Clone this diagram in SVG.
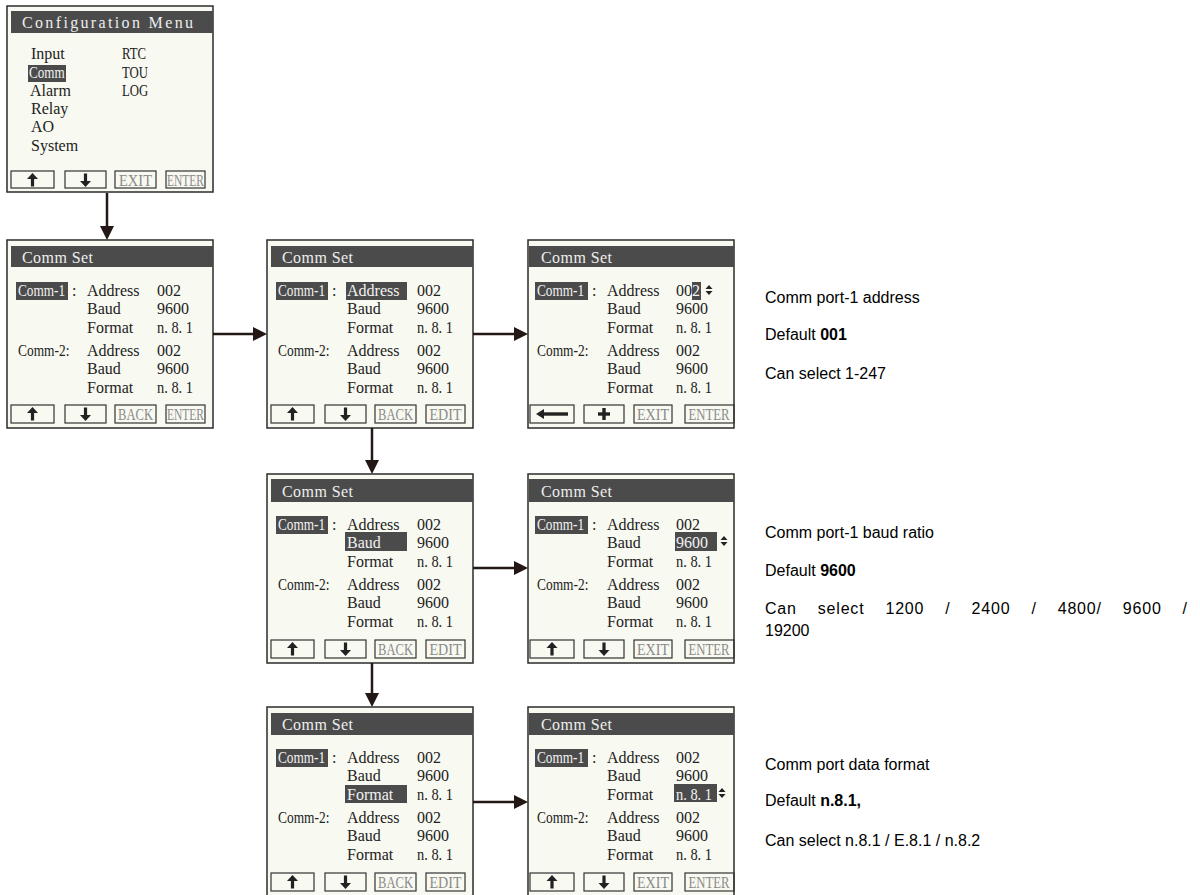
<svg xmlns="http://www.w3.org/2000/svg" width="1200" height="895" viewBox="0 0 1200 895">
<defs>
<style>
.scr{fill:#f8f9f1;stroke:#2b2b2b;stroke-width:1.5}
.hd{fill:#4b4b4b}
.hl{fill:#4b4b4b}
.t{font-family:"Liberation Serif",serif;font-size:16px;fill:#222}
.tw{font-family:"Liberation Serif",serif;font-size:16px;fill:#f2f2f2}
.ht{font-family:"Liberation Serif",serif;font-size:16px;fill:#eeeeee}
.btn{fill:none;stroke:#333;stroke-width:1.2}
.bt{font-family:"Liberation Serif",serif;font-size:16px;fill:#8a8a8a;text-anchor:middle}
.ic{fill:#222}
.cn{stroke:#231815;stroke-width:2.5;fill:none}
.ah{fill:#231815}
.d{font-family:"Liberation Sans",Arial,sans-serif;font-size:16px;fill:#000}
.b{font-weight:bold}
</style>
<g id="upIcon"><polygon points="0,-7 -5.5,-1 5.5,-1"/><rect x="-1.6" y="-1.5" width="3.2" height="8"/></g>
<g id="downIcon"><polygon points="0,7 -5.5,1 5.5,1"/><rect x="-1.6" y="-6.5" width="3.2" height="8"/></g>
<g id="ud"><polygon points="0,-5 -3.5,-1 3.5,-1"/><polygon points="0,5 -3.5,1 3.5,1"/></g>
</defs>

<!-- Configuration menu -->
<g id="configMenu" transform="translate(7,6)">
<rect class="scr" x="0" y="0" width="206" height="186"/>
<rect class="hd" x="4" y="5" width="202" height="22"/>
<text class="ht" x="15" y="22" textLength="171" lengthAdjust="spacing">Configuration Menu</text>
<text class="t" x="24" y="53">Input</text>
<rect class="hl" x="21" y="59" width="38" height="17"/>
<text class="tw" transform="translate(22,72) scale(0.82,1)">Comm</text>
<text class="t" x="23" y="90">Alarm</text>
<text class="t" x="24" y="108">Relay</text>
<text class="t" x="24" y="126">AO</text>
<text class="t" x="24" y="145">System</text>
<text class="t" transform="translate(115,53) scale(0.8,1)">RTC</text>
<text class="t" transform="translate(115,72) scale(0.8,1)">TOU</text>
<text class="t" transform="translate(115,90) scale(0.8,1)">LOG</text>
<rect class="btn" x="4" y="165" width="43" height="17"/>
<rect class="btn" x="58" y="165" width="41" height="17"/>
<rect class="btn" x="108" y="165" width="41" height="17"/>
<rect class="btn" x="159" y="165" width="39" height="17"/>
<use href="#upIcon" class="ic" x="25.5" y="174"/>
<use href="#downIcon" class="ic" x="78.5" y="174"/>
<text class="bt" x="128.5" y="179.5" textLength="33" lengthAdjust="spacingAndGlyphs">EXIT</text>
<text class="bt" x="178.5" y="179.5" textLength="37" lengthAdjust="spacingAndGlyphs">ENTER</text>
</g>

<!-- Screen 2: Comm Set, Comm-1 selected -->
<g id="commSet1" transform="translate(7,240)">
<rect class="scr" x="0" y="0" width="206" height="188"/>
<rect class="hd" x="4" y="6" width="202" height="21"/>
<text class="ht" x="15" y="23" textLength="71" lengthAdjust="spacing">Comm Set</text>
<rect class="hl" x="9" y="42" width="52" height="18"/>
<text class="tw" transform="translate(11,56) scale(0.83,1)">Comm-1</text>
<text class="t" x="65" y="56">:</text>
<text class="t" x="80" y="56">Address</text><text class="t" x="150" y="56">002</text>
<text class="t" x="80" y="74">Baud</text><text class="t" x="150" y="74">9600</text>
<text class="t" x="80" y="93">Format</text><text class="t" x="150" y="93" textLength="36" lengthAdjust="spacingAndGlyphs">n. 8. 1</text>
<text class="t" transform="translate(11,116) scale(0.84,1)">Comm-2:</text>
<text class="t" x="80" y="116">Address</text><text class="t" x="150" y="116">002</text>
<text class="t" x="80" y="134">Baud</text><text class="t" x="150" y="134">9600</text>
<text class="t" x="80" y="153">Format</text><text class="t" x="150" y="153" textLength="36" lengthAdjust="spacingAndGlyphs">n. 8. 1</text>
<rect class="btn" x="4" y="165" width="43" height="18"/>
<rect class="btn" x="58" y="165" width="41" height="18"/>
<rect class="btn" x="108" y="165" width="41" height="18"/>
<rect class="btn" x="159" y="165" width="39" height="18"/>
<use href="#upIcon" class="ic" x="25.5" y="174"/>
<use href="#downIcon" class="ic" x="78.5" y="174"/>
<text class="bt" x="128.5" y="180" textLength="35" lengthAdjust="spacingAndGlyphs">BACK</text>
<text class="bt" x="178.5" y="180" textLength="37" lengthAdjust="spacingAndGlyphs">ENTER</text>
</g>

<!-- Screen 3: Address selected -->
<g id="commSetAddr" transform="translate(267,240)">
<rect class="scr" x="0" y="0" width="206" height="188"/>
<rect class="hd" x="4" y="6" width="202" height="21"/>
<text class="ht" x="15" y="23" textLength="71" lengthAdjust="spacing">Comm Set</text>
<rect class="hl" x="9" y="42" width="52" height="18"/>
<text class="tw" transform="translate(11,56) scale(0.83,1)">Comm-1</text>
<text class="t" x="65" y="56">:</text>
<rect class="hl" x="79" y="42" width="61" height="18"/>
<text class="tw" x="80" y="56">Address</text><text class="t" x="150" y="56">002</text>
<text class="t" x="80" y="74">Baud</text><text class="t" x="150" y="74">9600</text>
<text class="t" x="80" y="93">Format</text><text class="t" x="150" y="93" textLength="36" lengthAdjust="spacingAndGlyphs">n. 8. 1</text>
<text class="t" transform="translate(11,116) scale(0.84,1)">Comm-2:</text>
<text class="t" x="80" y="116">Address</text><text class="t" x="150" y="116">002</text>
<text class="t" x="80" y="134">Baud</text><text class="t" x="150" y="134">9600</text>
<text class="t" x="80" y="153">Format</text><text class="t" x="150" y="153" textLength="36" lengthAdjust="spacingAndGlyphs">n. 8. 1</text>
<rect class="btn" x="4" y="165" width="43" height="18"/>
<rect class="btn" x="58" y="165" width="41" height="18"/>
<rect class="btn" x="108" y="165" width="41" height="18"/>
<rect class="btn" x="159" y="165" width="39" height="18"/>
<use href="#upIcon" class="ic" x="25.5" y="174"/>
<use href="#downIcon" class="ic" x="78.5" y="174"/>
<text class="bt" x="128.5" y="180" textLength="35" lengthAdjust="spacingAndGlyphs">BACK</text>
<text class="bt" x="178.5" y="180" textLength="32" lengthAdjust="spacingAndGlyphs">EDIT</text>
</g>

<!-- Screen 4: Address edit -->
<g id="commSetAddrEdit" transform="translate(528,240)">
<rect class="scr" x="0" y="0" width="206" height="188"/>
<rect class="hd" x="1" y="6" width="205" height="21"/>
<text class="ht" x="13" y="23" textLength="71" lengthAdjust="spacing">Comm Set</text>
<rect class="hl" x="7" y="42" width="53" height="18"/>
<text class="tw" transform="translate(9,56) scale(0.83,1)">Comm-1</text>
<text class="t" x="64" y="56">:</text>
<text class="t" x="79" y="56">Address</text><text class="t" x="148" y="56">00</text>
<rect class="hl" x="164" y="42" width="9" height="18"/>
<text class="tw" x="164" y="56">2</text>
<use href="#ud" class="ic" x="181" y="50"/>
<text class="t" x="79" y="74">Baud</text><text class="t" x="148" y="74">9600</text>
<text class="t" x="79" y="93">Format</text><text class="t" x="148" y="93" textLength="36" lengthAdjust="spacingAndGlyphs">n. 8. 1</text>
<text class="t" transform="translate(9,116) scale(0.84,1)">Comm-2:</text>
<text class="t" x="79" y="116">Address</text><text class="t" x="148" y="116">002</text>
<text class="t" x="79" y="134">Baud</text><text class="t" x="148" y="134">9600</text>
<text class="t" x="79" y="153">Format</text><text class="t" x="148" y="153" textLength="36" lengthAdjust="spacingAndGlyphs">n. 8. 1</text>
<rect class="btn" x="2" y="165" width="44" height="18"/>
<rect class="btn" x="56" y="165" width="40" height="18"/>
<rect class="btn" x="106" y="165" width="38" height="18"/>
<rect class="btn" x="157" y="165" width="49" height="18"/>
<polygon class="ic" points="8,174 16,169 16,179"/>
<rect class="ic" x="15" y="172.3" width="25" height="3.4"/>
<rect class="ic" x="70" y="172.3" width="12" height="3.4"/>
<rect class="ic" x="74.3" y="168" width="3.4" height="12"/>
<text class="bt" x="125" y="180" textLength="32" lengthAdjust="spacingAndGlyphs">EXIT</text>
<text class="bt" x="181" y="180" textLength="41" lengthAdjust="spacingAndGlyphs">ENTER</text>
</g>

<!-- Screen 5: Baud selected -->
<g id="commSetBaud" transform="translate(267,474)">
<rect class="scr" x="0" y="0" width="206" height="189"/>
<rect class="hd" x="4" y="5" width="202" height="23"/>
<text class="ht" x="15" y="23" textLength="71" lengthAdjust="spacing">Comm Set</text>
<rect class="hl" x="9" y="42" width="52" height="18"/>
<text class="tw" transform="translate(11,56) scale(0.83,1)">Comm-1</text>
<text class="t" x="65" y="56">:</text>
<text class="t" x="80" y="56">Address</text><text class="t" x="150" y="56">002</text>
<rect class="hl" x="78" y="58" width="62" height="19"/>
<text class="tw" x="80" y="74">Baud</text><text class="t" x="150" y="74">9600</text>
<text class="t" x="80" y="93">Format</text><text class="t" x="150" y="93" textLength="36" lengthAdjust="spacingAndGlyphs">n. 8. 1</text>
<text class="t" transform="translate(11,116) scale(0.84,1)">Comm-2:</text>
<text class="t" x="80" y="116">Address</text><text class="t" x="150" y="116">002</text>
<text class="t" x="80" y="134">Baud</text><text class="t" x="150" y="134">9600</text>
<text class="t" x="80" y="153">Format</text><text class="t" x="150" y="153" textLength="36" lengthAdjust="spacingAndGlyphs">n. 8. 1</text>
<rect class="btn" x="4" y="166" width="43" height="18"/>
<rect class="btn" x="58" y="166" width="41" height="18"/>
<rect class="btn" x="108" y="166" width="41" height="18"/>
<rect class="btn" x="159" y="166" width="39" height="18"/>
<use href="#upIcon" class="ic" x="25.5" y="175"/>
<use href="#downIcon" class="ic" x="78.5" y="175"/>
<text class="bt" x="128.5" y="181" textLength="35" lengthAdjust="spacingAndGlyphs">BACK</text>
<text class="bt" x="178.5" y="181" textLength="32" lengthAdjust="spacingAndGlyphs">EDIT</text>
</g>

<!-- Screen 6: Baud edit -->
<g id="commSetBaudEdit" transform="translate(528,474)">
<rect class="scr" x="0" y="0" width="206" height="189"/>
<rect class="hd" x="1" y="5" width="205" height="23"/>
<text class="ht" x="13" y="23" textLength="71" lengthAdjust="spacing">Comm Set</text>
<rect class="hl" x="7" y="42" width="53" height="18"/>
<text class="tw" transform="translate(9,56) scale(0.83,1)">Comm-1</text>
<text class="t" x="64" y="56">:</text>
<text class="t" x="79" y="56">Address</text><text class="t" x="148" y="56">002</text>
<text class="t" x="79" y="74">Baud</text>
<rect class="hl" x="147" y="58" width="42" height="19"/>
<text class="tw" x="148" y="74">9600</text>
<use href="#ud" class="ic" x="196" y="67"/>
<text class="t" x="79" y="93">Format</text><text class="t" x="148" y="93" textLength="36" lengthAdjust="spacingAndGlyphs">n. 8. 1</text>
<text class="t" transform="translate(9,116) scale(0.84,1)">Comm-2:</text>
<text class="t" x="79" y="116">Address</text><text class="t" x="148" y="116">002</text>
<text class="t" x="79" y="134">Baud</text><text class="t" x="148" y="134">9600</text>
<text class="t" x="79" y="153">Format</text><text class="t" x="148" y="153" textLength="36" lengthAdjust="spacingAndGlyphs">n. 8. 1</text>
<rect class="btn" x="2" y="166" width="44" height="18"/>
<rect class="btn" x="56" y="166" width="40" height="18"/>
<rect class="btn" x="106" y="166" width="38" height="18"/>
<rect class="btn" x="157" y="166" width="49" height="18"/>
<use href="#upIcon" class="ic" x="24" y="175"/>
<use href="#downIcon" class="ic" x="76" y="175"/>
<text class="bt" x="125" y="181" textLength="32" lengthAdjust="spacingAndGlyphs">EXIT</text>
<text class="bt" x="181" y="181" textLength="41" lengthAdjust="spacingAndGlyphs">ENTER</text>
</g>

<!-- Screen 7: Format selected -->
<g id="commSetFormat" transform="translate(267,707)">
<rect class="scr" x="0" y="0" width="206" height="189"/>
<rect class="hd" x="4" y="6" width="202" height="22"/>
<text class="ht" x="15" y="23" textLength="71" lengthAdjust="spacing">Comm Set</text>
<rect class="hl" x="9" y="42" width="52" height="18"/>
<text class="tw" transform="translate(11,56) scale(0.83,1)">Comm-1</text>
<text class="t" x="65" y="56">:</text>
<text class="t" x="80" y="56">Address</text><text class="t" x="150" y="56">002</text>
<text class="t" x="80" y="74">Baud</text><text class="t" x="150" y="74">9600</text>
<rect class="hl" x="78" y="78" width="62" height="18"/>
<text class="tw" x="80" y="93">Format</text><text class="t" x="150" y="93" textLength="36" lengthAdjust="spacingAndGlyphs">n. 8. 1</text>
<text class="t" transform="translate(11,116) scale(0.84,1)">Comm-2:</text>
<text class="t" x="80" y="116">Address</text><text class="t" x="150" y="116">002</text>
<text class="t" x="80" y="134">Baud</text><text class="t" x="150" y="134">9600</text>
<text class="t" x="80" y="153">Format</text><text class="t" x="150" y="153" textLength="36" lengthAdjust="spacingAndGlyphs">n. 8. 1</text>
<rect class="btn" x="4" y="166" width="43" height="18"/>
<rect class="btn" x="58" y="166" width="41" height="18"/>
<rect class="btn" x="108" y="166" width="41" height="18"/>
<rect class="btn" x="159" y="166" width="39" height="18"/>
<use href="#upIcon" class="ic" x="25.5" y="175"/>
<use href="#downIcon" class="ic" x="78.5" y="175"/>
<text class="bt" x="128.5" y="181" textLength="35" lengthAdjust="spacingAndGlyphs">BACK</text>
<text class="bt" x="178.5" y="181" textLength="32" lengthAdjust="spacingAndGlyphs">EDIT</text>
</g>

<!-- Screen 8: Format edit -->
<g id="commSetFormatEdit" transform="translate(528,707)">
<rect class="scr" x="0" y="0" width="206" height="189"/>
<rect class="hd" x="1" y="6" width="205" height="22"/>
<text class="ht" x="13" y="23" textLength="71" lengthAdjust="spacing">Comm Set</text>
<rect class="hl" x="7" y="42" width="53" height="18"/>
<text class="tw" transform="translate(9,56) scale(0.83,1)">Comm-1</text>
<text class="t" x="64" y="56">:</text>
<text class="t" x="79" y="56">Address</text><text class="t" x="148" y="56">002</text>
<text class="t" x="79" y="74">Baud</text><text class="t" x="148" y="74">9600</text>
<text class="t" x="79" y="93">Format</text>
<rect class="hl" x="146" y="77" width="43" height="18"/>
<text class="tw" x="148" y="93" textLength="36" lengthAdjust="spacingAndGlyphs">n. 8. 1</text>
<use href="#ud" class="ic" x="194" y="86"/>
<text class="t" transform="translate(9,116) scale(0.84,1)">Comm-2:</text>
<text class="t" x="79" y="116">Address</text><text class="t" x="148" y="116">002</text>
<text class="t" x="79" y="134">Baud</text><text class="t" x="148" y="134">9600</text>
<text class="t" x="79" y="153">Format</text><text class="t" x="148" y="153" textLength="36" lengthAdjust="spacingAndGlyphs">n. 8. 1</text>
<rect class="btn" x="2" y="166" width="44" height="18"/>
<rect class="btn" x="56" y="166" width="40" height="18"/>
<rect class="btn" x="106" y="166" width="38" height="18"/>
<rect class="btn" x="157" y="166" width="49" height="18"/>
<use href="#upIcon" class="ic" x="24" y="175"/>
<use href="#downIcon" class="ic" x="76" y="175"/>
<text class="bt" x="125" y="181" textLength="32" lengthAdjust="spacingAndGlyphs">EXIT</text>
<text class="bt" x="181" y="181" textLength="41" lengthAdjust="spacingAndGlyphs">ENTER</text>
</g>

<!-- Connectors -->
<g id="connectors">
<line class="cn" x1="107" y1="193" x2="107" y2="228"/>
<polygon class="ah" points="107,240 100,226 114,226"/>
<line class="cn" x1="213" y1="334" x2="254" y2="334"/>
<polygon class="ah" points="267,334 253,327 253,341"/>
<line class="cn" x1="473" y1="334" x2="515" y2="334"/>
<polygon class="ah" points="528,334 514,327 514,341"/>
<line class="cn" x1="372" y1="428" x2="372" y2="462"/>
<polygon class="ah" points="372,474 365,460 379,460"/>
<line class="cn" x1="473" y1="568" x2="515" y2="568"/>
<polygon class="ah" points="528,568 514,561 514,575"/>
<line class="cn" x1="372" y1="663" x2="372" y2="695"/>
<polygon class="ah" points="372,707 365,693 379,693"/>
<line class="cn" x1="473" y1="802" x2="515" y2="802"/>
<polygon class="ah" points="528,802 514,795 514,809"/>
</g>

<!-- Descriptions -->
<g id="desc1">
<text class="d" x="765" y="303">Comm port-1 address</text>
<text class="d" x="765" y="340">Default <tspan class="b">001</tspan></text>
<text class="d" x="765" y="379">Can select 1-247</text>
</g>
<g id="desc2">
<text class="d" x="765" y="538">Comm port-1 baud ratio</text>
<text class="d" x="765" y="576">Default <tspan class="b">9600</tspan></text>
<text class="d" x="765" y="614" letter-spacing="0.8" word-spacing="15.8">Can select 1200 / 2400 / 4800/ 9600 /</text>
<text class="d" x="765" y="636">19200</text>
</g>
<g id="desc3">
<text class="d" x="765" y="770">Comm port data format</text>
<text class="d" x="765" y="806">Default <tspan class="b">n.8.1,</tspan></text>
<text class="d" x="765" y="846">Can select n.8.1 / E.8.1 / n.8.2</text>
</g>
</svg>
